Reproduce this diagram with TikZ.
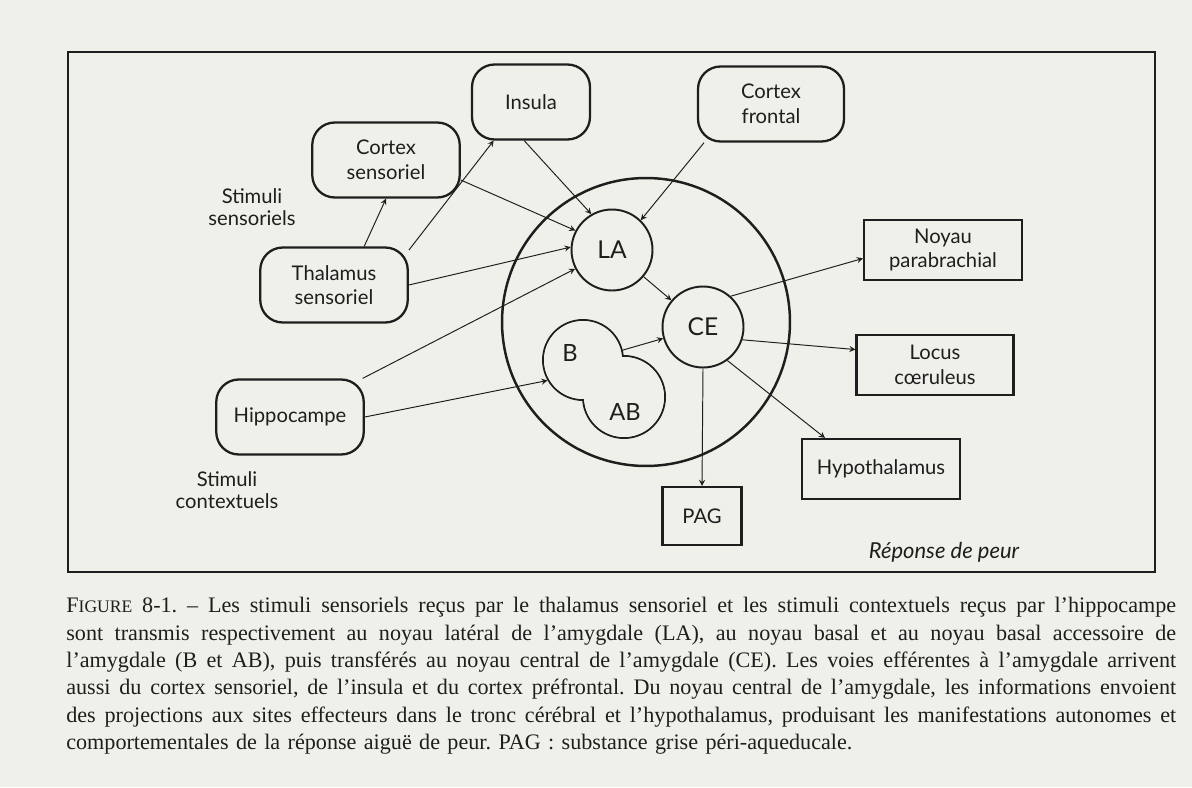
\documentclass[tikz,border=0pt]{standalone}
\usepackage{fontspec}
\setmainfont{Liberation Serif}
\newfontfamily\diagfont{Lato}
\usetikzlibrary{arrows.meta}

\definecolor{paper}{RGB}{238,240,233}
\definecolor{ink}{RGB}{30,30,30}

% one justified line of the caption
\newcommand{\capline}[1]{\hbox to 22.2cm{\spaceskip=0.25em plus 2em minus 0.08em #1}}
\newcommand{\lastline}[1]{\hbox to 22.2cm{#1\hfil}}

\begin{document}
\frenchspacing
\begin{tikzpicture}[x=0.02cm, y=-0.02cm, color=ink,
    rbox/.style={draw, rounded corners=0.45cm, line width=1.3pt, minimum width=2.95cm, minimum height=1.5cm, align=center, font=\diagfont\fontsize{11.5}{14}\selectfont},
    sbox/.style={draw, rectangle, line width=1.2pt, minimum width=3.16cm, minimum height=1.2cm, align=center, font=\diagfont\fontsize{11.5}{14}\selectfont},
    nucleus/.style={draw, circle, line width=1.1pt, minimum size=1.62cm, inner sep=0pt, font=\diagfont\fontsize{14}{16}\selectfont},
    lobe/.style={draw, circle, line width=1.1pt, inner sep=0pt},
    note/.style={align=center, font=\diagfont\fontsize{11.5}{12.5}\selectfont},
    arrow/.style={->, >=stealth, line width=0.55pt}
]
    \useasboundingbox (0,0) rectangle (1192,787);
    \fill[paper] (0,0) rectangle (1192,787);

    % frame of the figure
    \draw[line width=1.1pt] (68,52) rectangle (1155,572);

    % inputs
    \node[rbox, minimum width=2.36cm] (ins) at (531,102) {Insula};
    \node[rbox] (cs) at (386,160) {Cortex\\sensoriel};
    \node[rbox] (thal) at (334,285) {Thalamus\\sensoriel};
    \node[rbox] (hip) at (290,417) {Hippocampe};
    \node[rbox, minimum width=2.92cm] (cf) at (771,104) {Cortex\\frontal};
    \node[note] (stsens) at (252,207) {Stimuli\\sensoriels};
    \node[note] (stctx) at (227,490) {Stimuli\\contextuels};

    % amygdala and its nuclei
    \node[draw, circle, line width=1.4pt, minimum size=5.76cm] (amyg) at (646,322) {};
    \node[nucleus] (la) at (612,250) {LA};
    \node[nucleus] (ce) at (703,327) {CE};
    \node[lobe, minimum size=1.6cm] (b) at (583,360) {};
    \node[lobe, minimum size=1.64cm] (ab) at (624,397) {};
    \fill[paper] (b.center) circle (0.78cm);
    \fill[paper] (ab.center) circle (0.80cm);
    \node[font=\diagfont\fontsize{13.5}{15}\selectfont] (btxt) at (570,353) {B};
    \node[font=\diagfont\fontsize{13.5}{15}\selectfont] (abtxt) at (625,412) {AB};

    % outputs
    \node[sbox] (npb) at (943,250) {Noyau\\parabrachial};
    \node[sbox, minimum width=3.14cm] (lc) at (935,365) {Locus\\cœruleus};
    \node[sbox] (hyp) at (881,469) {Hypothalamus};
    \node[sbox, minimum width=1.58cm, minimum height=1.16cm] (pag) at (702,516) {PAG};
    \node[font=\diagfont\itshape\fontsize{12.5}{14}\selectfont] (rep) at (944,552) {Réponse de peur};

    % afferents
    \draw[arrow] (thal.52) -- (cs.south);
    \draw[arrow] (thal.25) -- (ins.-134);
    \draw[arrow] (thal.east) -- (la.176);
    \draw[arrow] (cs.-15) -- (la.152);
    \draw[arrow] (ins.-100) -- (la.120);
    \draw[arrow] (cf.-150) -- (la.46);
    \draw[arrow] (hip.28) -- (la.207);
    \draw[arrow] (hip.east) -- (b.210);

    % inside the amygdala
    \draw[arrow] (la) -- (ce);
    \draw[arrow] (b.14) -- (ce);

    % efferents
    \draw[arrow] (ce.48) -- (npb.186);
    \draw[arrow] (ce.-18) -- (lc.169);
    \draw[arrow] (ce.-54) -- (hyp.151);
    \draw[arrow] (ce.south) -- (pag.north);

    % caption
    \node[anchor=north west, inner sep=0pt, text width=22.2cm, font=\fontsize{12.6}{15.6}\selectfont] (cap) at (66,597) {%
        \capline{F{\fontsize{10}{10}\selectfont IGURE} 8-1. – Les stimuli sensoriels reçus par le thalamus sensoriel et les stimuli contextuels reçus par l’hippocampe}
        \capline{sont transmis respectivement au noyau latéral de l’amygdale (LA), au noyau basal et au noyau basal accessoire de}
        \capline{l’amygdale (B et AB), puis transférés au noyau central de l’amygdale (CE). Les voies efférentes à l’amygdale arrivent}
        \capline{aussi du cortex sensoriel, de l’insula et du cortex préfrontal. Du noyau central de l’amygdale, les informations envoient}
        \capline{des projections aux sites effecteurs dans le tronc cérébral et l’hypothalamus, produisant les manifestations autonomes et}
        \lastline{comportementales de la réponse aiguë de peur. PAG : substance grise péri-aqueducale.}};
\end{tikzpicture}
\end{document}
